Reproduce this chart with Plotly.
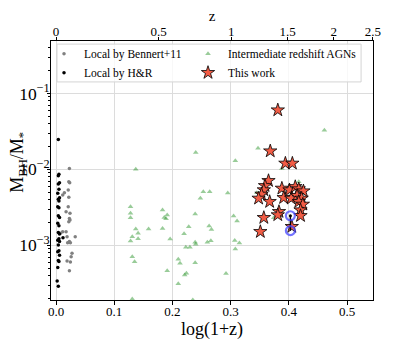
import numpy as np
import plotly.graph_objects as go

# Local by Bennert+11
ben_x = [0.023, 0.022, 0.0235, 0.021, 0.0144, 0.0115, 0.022, 0.021, 0.0173, 0.024,
         0.023, 0.024, 0.022, 0.0115, 0.0173, 0.0075, 0.019, 0.033, 0.023, 0.020,
         0.0247, 0.0275, 0.026, 0.019, 0.0247, 0.023]
ben_y = [0.0103, 0.00687, 0.00667, 0.00535, 0.00492, 0.00459, 0.00428, 0.00322, 0.00277, 0.00264,
         0.00226, 0.00215, 0.00205, 0.00151, 0.00151, 0.00144, 0.0013, 0.0013, 0.00112, 0.00108,
         0.00108, 0.000785, 0.000708, 0.000621, 0.000603, 0.000463]

# Local by H&R
hr_x = [0.004, 0.005, 0.004, 0.006, 0.004, 0.005, 0.003, 0.006, 0.004, 0.005,
        0.003, 0.005, 0.004, 0.006, 0.003, 0.005, 0.004, 0.006, 0.005, 0.003,
        0.006, 0.004, 0.005, 0.003, 0.006, 0.004, 0.005, 0.003, 0.002, 0.004, 0.012]
hr_y = [0.0248, 0.00859, 0.00824, 0.00667, 0.00641, 0.00546, 0.00483, 0.00424, 0.00403, 0.00383,
        0.00322, 0.00313, 0.00245, 0.00233, 0.00195, 0.00181, 0.00147, 0.00141, 0.00122, 0.00117,
        0.00112, 0.00101, 0.00085, 0.00082, 0.00074, 0.00063, 0.00061, 0.00051, 0.00034, 0.00029, 0.00126]

# Intermediate redshift AGNs
agn_x = [0.240, 0.308, 0.137, 0.253, 0.264, 0.248, 0.295, 0.128, 0.128, 0.128,
         0.183, 0.191, 0.186, 0.189, 0.239, 0.305, 0.311, 0.137, 0.141, 0.159,
         0.183, 0.228, 0.263, 0.267, 0.220, 0.131, 0.128, 0.141, 0.196, 0.239,
         0.240, 0.266, 0.260, 0.307, 0.315, 0.223, 0.230, 0.308, 0.131, 0.135,
         0.210, 0.213, 0.239, 0.191, 0.224, 0.221, 0.292, 0.210, 0.131, 0.235,
         0.461, 0.347, 0.388, 0.417, 0.345, 0.374, 0.418]
agn_y = [0.0167, 0.0130, 0.0100, 0.00508, 0.00508, 0.00415, 0.00488, 0.00322, 0.00264, 0.00231,
         0.00291, 0.00251, 0.00233, 0.00224, 0.00258, 0.00243, 0.00209, 0.00164, 0.00144, 0.00164,
         0.00167, 0.00176, 0.00179, 0.00162, 0.00142, 0.0013, 0.00114, 0.00122, 0.00121, 0.0011,
         0.00103, 0.00115, 0.0011, 0.00116, 0.00107, 0.000942, 0.000942, 0.000893, 0.000708, 0.000608,
         0.000655, 0.000579, 0.00059, 0.000463, 0.000429, 0.000406, 0.000424, 0.000313, 0.000196, 0.000191,
         0.0328, 0.0189, 0.0103, 0.00687, 0.00492, 0.00231, 0.00298]

# This work
tw_x = [0.381, 0.368, 0.394, 0.406, 0.365, 0.359, 0.357, 0.353, 0.348, 0.367,
        0.388, 0.401, 0.411, 0.417, 0.425, 0.391, 0.404, 0.414, 0.422, 0.417,
        0.424, 0.420, 0.383, 0.381, 0.420, 0.357, 0.405, 0.351]
tw_y = [0.0603, 0.0174, 0.0120, 0.0120, 0.00708, 0.00608, 0.00535, 0.00469, 0.00415, 0.00375,
        0.00562, 0.00535, 0.0059, 0.00551, 0.00518, 0.00423, 0.00415, 0.0045, 0.00415, 0.00375,
        0.00346, 0.00291, 0.00277, 0.00251, 0.00245, 0.00231, 0.00176, 0.00151]

# circled pair
pair_x = [0.4026, 0.4026]
pair_y = [0.00245, 0.00156]

# top axis redshift ticks
z_ticks = [0, 0.5, 1, 1.5, 2, 2.5]
z_labels = ["0", "0.5", "1", "1.5", "2", "2.5"]

serif = "Liberation Serif"
xr = [-0.0086, 0.5445]
leg_font = dict(size=11.5, family=serif, color="black")

fig = go.Figure()
fig.add_trace(go.Scatter(x=ben_x, y=ben_y, mode="markers", name="Local by Bennert+11",
                         legend="legend", marker=dict(color="grey", size=3.5)))
fig.add_trace(go.Scatter(x=agn_x, y=agn_y, mode="markers", name="Intermediate redshift AGNs",
                         legend="legend2",
                         marker=dict(color="rgba(0,128,0,0.4)", size=5, symbol="triangle-up")))
fig.add_trace(go.Scatter(x=hr_x, y=hr_y, mode="markers", name="Local by H&R",
                         legend="legend", marker=dict(color="black", size=3.5)))
fig.add_trace(go.Scatter(x=tw_x, y=tw_y, mode="markers", name="This work",
                         legend="legend2",
                         marker=dict(color="#f25c45", size=10, symbol="star",
                                     line=dict(color="black", width=0.8))))
fig.add_trace(go.Scatter(x=pair_x, y=pair_y, mode="lines", showlegend=False,
                         line=dict(color="black", width=1.5)))
fig.add_trace(go.Scatter(x=pair_x, y=pair_y, mode="markers", showlegend=False,
                         marker=dict(color="rgba(0,0,0,0)", size=9, symbol="circle",
                                     line=dict(color="rgba(70,70,255,0.75)", width=2.2))))
fig.add_trace(go.Scatter(x=pair_x[:1], y=pair_y[:1], mode="markers", showlegend=False,
                         marker=dict(color="black", size=3)))
# dummy trace to show top axis
fig.add_trace(go.Scatter(x=xr, y=[None, None], xaxis="x2", mode="markers",
                         showlegend=False, hoverinfo="skip"))

# legend frame
fig.add_shape(type="rect", xref="paper", yref="paper", x0=0.0186, x1=0.963, y0=0.842, y1=0.988,
              line=dict(color="#d4d4d4", width=1), fillcolor="rgba(255,255,255,0.8)", layer="above")

# y title as annotation so it sits close to the tick labels
fig.add_annotation(text="M<sub>BH</sub>/M<sub>*</sub>", xref="paper", yref="paper",
                   x=-0.1, y=0.533, textangle=-90, showarrow=False,
                   xanchor="center", yanchor="middle", font=dict(size=18, family=serif))

# page body adds 8px offset, so figure is 8px smaller and shifted
fig.update_layout(
    width=407, height=336,
    margin=dict(l=43, r=42, t=33, b=44, autoexpand=False),
    paper_bgcolor="white", plot_bgcolor="white",
    font=dict(family=serif, color="black", size=12),
    xaxis=dict(range=xr, tickvals=[0, 0.1, 0.2, 0.3, 0.4, 0.5],
               ticktext=["0.0", "0.1", "0.2", "0.3", "0.4", "0.5"], automargin=False,
               showgrid=True, gridcolor="#dcdcdc", gridwidth=1, zeroline=False,
               showline=True, linecolor="black", linewidth=1, mirror=True,
               ticks="outside", ticklen=3.5, tickcolor="black", ticklabelstandoff=-4,
               tickfont=dict(size=13, family=serif),
               title=dict(text="log(1+z)", font=dict(size=18, family=serif), standoff=0)),
    xaxis2=dict(range=xr, overlaying="x", side="top", anchor="y", automargin=False,
                tickvals=list(np.log10(1 + np.array(z_ticks))), ticktext=z_labels,
                showgrid=False, zeroline=False, showline=False,
                ticks="outside", ticklen=3.5, tickcolor="black", ticklabelstandoff=-5,
                tickfont=dict(size=13, family=serif),
                title=dict(text="z", font=dict(size=15, family=serif), standoff=2)),
    yaxis=dict(type="log", range=[-3.72, -0.31], dtick=1, exponentformat="power",
               automargin=False,
               showgrid=True, gridcolor="#dcdcdc", gridwidth=1, zeroline=False,
               showline=True, linecolor="black", linewidth=1, mirror=True,
               ticks="outside", ticklen=3.5, tickcolor="black", ticklabelstandoff=-6,
               minor=dict(ticks="outside", ticklen=2, tickcolor="black", showgrid=False),
               tickfont=dict(size=14, family=serif)),
    legend=dict(orientation="v", x=-0.0217, y=1.007, xanchor="left", yanchor="top",
                bgcolor="rgba(0,0,0,0)", borderwidth=0, font=leg_font,
                itemsizing="trace", tracegroupgap=0),
    legend2=dict(orientation="v", x=0.4255, y=1.007, xanchor="left", yanchor="top",
                 bgcolor="rgba(0,0,0,0)", borderwidth=0, font=leg_font,
                 itemsizing="trace", tracegroupgap=0),
    showlegend=True,
)

fig.write_html("out.html")
